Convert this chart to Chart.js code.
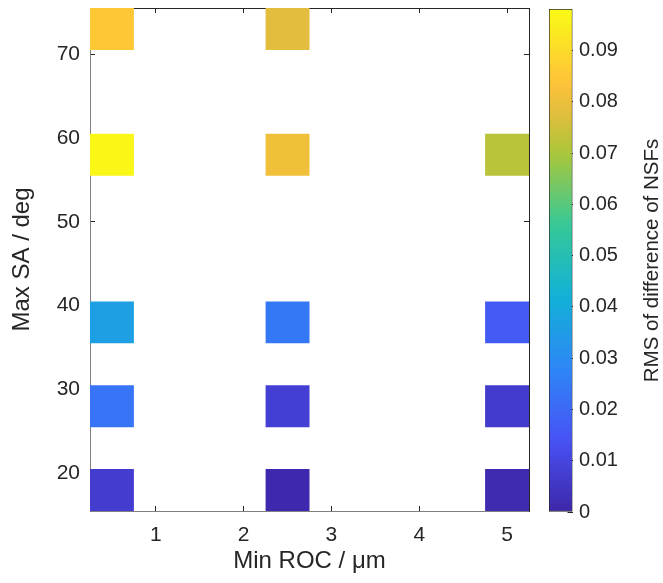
<!DOCTYPE html>
<html>
<head>
<meta charset="utf-8">
<script src="https://cdn.jsdelivr.net/npm/chart.js@4.4.1/dist/chart.umd.min.js"></script>
<style>
  body { margin: 0; background: #fff; }
  #wrap { position: relative; width: 663px; height: 583px; }
  #heat { position: absolute; left: 0; top: 0; }
  #cbar { position: absolute; left: 540px; top: 0; }
</style>
</head>
<body>
<div id="wrap">
  <canvas id="heat" width="545" height="583"></canvas>
  <canvas id="cbar" width="123" height="583"></canvas>
</div>
<script>
// data
const rocCenters = [0.5, 2.5, 5];                 // Min ROC / µm
const saBinLow = [70.5, 55.5, 35.5, 25.5, 15.5];  // Max SA / deg, lower edge of each row
const saBinHigh = [75.5, 60.5, 40.5, 30.5, 20.5]; // upper edge of each row
const rmsValues = [                               // RMS of difference of NSFs (null = no cell)
  [0.085, 0.078, null],
  [0.097, 0.081, 0.072],
  [0.036, 0.024, 0.016],
  [0.023, 0.008, 0.0065],
  [0.007, 0.001, 0.0015]
];
const xTickValues = [1, 2, 3, 4, 5];
const yTickValues = [20, 30, 40, 50, 60, 70];
const cbTickValues = [0, 0.01, 0.02, 0.03, 0.04, 0.05, 0.06, 0.07, 0.08, 0.09];
const cbMin = 0;
const cbMax = 0.0981;

// parula colormap key points [position, r, g, b]
const parulaStops = [
  [0, 0.2422, 0.1504, 0.6603],
  [1 / 7, 0.2810, 0.3228, 0.9579],
  [2 / 7, 0.1786, 0.5289, 0.9682],
  [3 / 7, 0.0689, 0.6948, 0.8394],
  [4 / 7, 0.2161, 0.7843, 0.5923],
  [5 / 7, 0.6720, 0.7793, 0.2227],
  [0.79, 0.8800, 0.7400, 0.2400],
  [6 / 7, 0.9970, 0.7659, 0.2199],
  [1, 0.9769, 0.9839, 0.0805]
];

function parulaColor(t) {
  t = Math.max(0, Math.min(1, t));
  for (let i = 1; i < parulaStops.length; i++) {
    const a = parulaStops[i - 1], b = parulaStops[i];
    if (t <= b[0]) {
      const f = (t - a[0]) / (b[0] - a[0]);
      const c = [1, 2, 3].map(k => Math.round(255 * (a[k] + (b[k] - a[k]) * f)));
      return `rgb(${c[0]}, ${c[1]}, ${c[2]})`;
    }
  }
  return 'rgb(249, 251, 21)';
}

Chart.defaults.font.family = '"Liberation Sans", Arial, Helvetica, sans-serif';
Chart.defaults.color = '#262626';

// build the cells
const cells = [];
const cellColors = [];
saBinLow.forEach((lo, r) => {
  rocCenters.forEach((roc, c) => {
    const v = rmsValues[r][c];
    if (v === null) return;
    cells.push({ x: roc, y: [lo, saBinHigh[r]] });
    cellColors.push(parulaColor((v - cbMin) / (cbMax - cbMin)));
  });
});

const setTicks = values => scale => { scale.ticks = values.map(v => ({ value: v })); };
// fix the box size and drop the label overhang padding
const fitH = h => s => { s.height = h; s.paddingLeft = 0; s.paddingRight = 0; };
const fitW = w => s => { s.width = w; s.paddingTop = 0; s.paddingBottom = 0; };

new Chart(document.getElementById('heat'), {
  type: 'bar',
  data: {
    datasets: [{
      data: cells,
      backgroundColor: cellColors,
      borderWidth: 0,
      categoryPercentage: 1,
      barPercentage: 0.5,
      xAxisID: 'x',
      yAxisID: 'y'
    }]
  },
  options: {
    responsive: false,
    animation: false,
    layout: { padding: { left: 0, top: 8, right: 16, bottom: 0 } },
    plugins: { legend: { display: false }, tooltip: { enabled: false } },
    scales: {
      x: {
        type: 'linear', position: 'bottom', min: 0.25, max: 5.25, offset: false,
        afterBuildTicks: setTicks(xTickValues),
        afterFit: fitH(72),
        grid: { offset: false, drawOnChartArea: false, tickLength: -5, color: '#262626' },
        border: { color: '#808080', width: 1 },
        ticks: { font: { size: 21 }, padding: 17, maxRotation: 0, callback: v => String(v) },
        title: { display: true, text: 'Min ROC / μm', font: { size: 24 }, padding: { top: 0, bottom: 7 } }
      },
      x2: {
        type: 'linear', axis: 'x', position: 'top', min: 0.25, max: 5.25, offset: false,
        afterBuildTicks: setTicks(xTickValues),
        afterFit: fitH(0),
        grid: { offset: false, drawOnChartArea: false, tickLength: -5, color: '#262626' },
        border: { color: '#262626', width: 1 },
        ticks: { display: false }
      },
      y: {
        type: 'linear', position: 'left', min: 15.5, max: 75.5,
        afterBuildTicks: setTicks(yTickValues),
        afterFit: fitW(90),
        grid: { drawOnChartArea: false, tickLength: -5, color: '#262626' },
        border: { color: '#808080', width: 1 },
        ticks: { font: { size: 21 }, padding: 15, callback: v => String(v) },
        title: { display: true, text: 'Max SA / deg', font: { size: 24 }, padding: { top: 8, bottom: 0 } }
      },
      y2: {
        type: 'linear', axis: 'y', position: 'right', min: 15.5, max: 75.5,
        afterBuildTicks: setTicks(yTickValues),
        afterFit: fitW(0),
        grid: { drawOnChartArea: false, tickLength: -5, color: '#262626' },
        border: { color: '#262626', width: 1 },
        ticks: { display: false }
      }
    }
  }
});

// colorbar title drawn rotated bottom-to-top
const cbTitle = {
  id: 'cbTitle',
  afterDraw(chart) {
    const c = chart.ctx;
    const a = chart.chartArea;
    c.save();
    c.translate(112, (a.top + a.bottom) / 2);
    c.rotate(-Math.PI / 2);
    c.font = '20.5px "Liberation Sans", Arial, sans-serif';
    c.fillStyle = '#262626';
    c.textAlign = 'center';
    c.textBaseline = 'middle';
    c.fillText('RMS of difference of NSFs', 0, 0);
    c.restore();
  }
};

new Chart(document.getElementById('cbar'), {
  type: 'bar',
  data: {
    labels: ['cb'],
    datasets: [{
      data: [[cbMin, cbMax]],
      backgroundColor: ctx => {
        const chart = ctx.chart;
        const y = chart.scales.y;
        if (!chart.chartArea || !y) return '#888';
        const g = chart.ctx.createLinearGradient(0, y.getPixelForValue(cbMin), 0, y.getPixelForValue(cbMax));
        for (let i = 0; i <= 40; i++) g.addColorStop(i / 40, parulaColor(i / 40));
        return g;
      },
      borderWidth: 1,
      borderColor: '#262626',
      borderSkipped: false,
      categoryPercentage: 1,
      barPercentage: 1
    }]
  },
  options: {
    responsive: false,
    animation: false,
    layout: { padding: { left: 9, top: 9, right: 0, bottom: 71 } },
    plugins: { legend: { display: false }, tooltip: { enabled: false } },
    scales: {
      x: { display: false },
      y: {
        type: 'linear', position: 'right', min: cbMin, max: cbMax,
        afterBuildTicks: setTicks(cbTickValues),
        afterFit: fitW(90.5),
        grid: { drawOnChartArea: false, tickLength: -5, color: '#262626' },
        border: { display: false },
        ticks: { font: { size: 20 }, padding: 11.5, callback: v => String(v) }
      }
    }
  },
  plugins: [cbTitle]
});
</script>
</body>
</html>
